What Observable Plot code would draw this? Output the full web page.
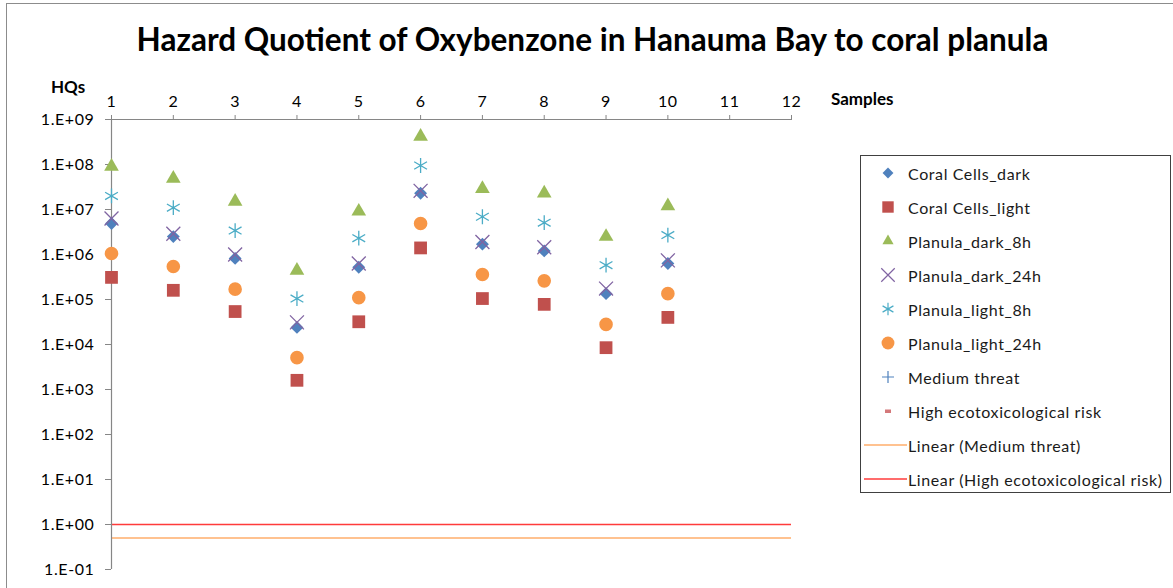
<!DOCTYPE html>
<html>
<head>
<meta charset="utf-8">
<script src="https://cdn.jsdelivr.net/npm/d3@7"></script>
<script src="https://cdn.jsdelivr.net/npm/@observablehq/plot@0.6"></script>
<style>
  html, body { margin: 0; padding: 0; background: #fff; }
  #wrap { position: relative; width: 1173px; height: 588px; overflow: hidden; font-family: Lato, "Open Sans", sans-serif; }
  #chart { position: absolute; left: 0; top: 0; }
  .frame-top { position: absolute; left: 6px; top: 3px; width: 1167px; height: 0; border-top: 1px solid #8c8c8c; }
  .frame-left { position: absolute; left: 6px; top: 3px; width: 0; height: 585px; border-left: 1px solid #8c8c8c; }
  #title { position: absolute; left: 0; width: 1185px; top: 20px; text-align: center; font-weight: bold; font-size: 31.5px; color: #000; white-space: nowrap; }
  .axlab { position: absolute; font-weight: bold; font-size: 17px; color: #000; }
  #legend { position: absolute; left: 860px; top: 155px; width: 311px; height: 338px; border: 1.5px solid #404040; box-sizing: border-box; }
  .row { position: absolute; left: 0; height: 20px; display: flex; align-items: center; font-size: 16px; letter-spacing: 0.6px; color: #1a1a1a; white-space: nowrap; }
  .row svg { display: block; }
</style>
</head>
<body>
<div id="wrap">
  <div id="chart"></div>
  <div class="frame-top"></div>
  <div class="frame-left"></div>
  <div id="title">Hazard Quotient of Oxybenzone in Hanauma Bay to coral planula</div>
  <div class="axlab" style="left:51px; top:76px;">HQs</div>
  <div class="axlab" style="left:831px; top:88px;">Samples</div>
  <div id="legend"></div>
</div>
<script>
// ---- data ----
const samples = [1, 2, 3, 4, 5, 6, 7, 8, 9, 10];
const coralCellsDark   = [4.9e6, 2.5e6, 8.2e5, 2.4e4, 5.2e5, 2.3e7, 1.7e6, 1.2e6, 1.35e5, 6.3e5];
const coralCellsLight  = [3.1e5, 1.6e5, 5.4e4, 1.6e3, 3.2e4, 1.4e6, 1.05e5, 7.8e4, 8.5e3, 4.0e4];
const planulaDark8h    = [9.0e7, 4.9e7, 1.5e7, 4.4e5, 9.1e6, 4.2e8, 2.9e7, 2.3e7, 2.5e6, 1.2e7];
const planulaDark24h   = [6.3e6, 2.9e6, 1.0e6, 3.1e4, 6.3e5, 2.6e7, 1.9e6, 1.45e6, 1.75e5, 7.4e5];
const planulaLight8h   = [2.0e7, 1.1e7, 3.4e6, 1.05e5, 2.3e6, 9.5e7, 6.9e6, 5.1e6, 5.8e5, 2.7e6];
const planulaLight24h  = [1.05e6, 5.4e5, 1.7e5, 5.1e3, 1.1e5, 4.9e6, 3.6e5, 2.6e5, 2.8e4, 1.35e5];
const mediumThreat = 0.5;
const highRisk = 1;
const xTicks = [1, 2, 3, 4, 5, 6, 7, 8, 9, 10, 11, 12];
const yTicks = [1e-1, 1e0, 1e1, 1e2, 1e3, 1e4, 1e5, 1e6, 1e7, 1e8, 1e9];
const yTickLabels = ["1.E-01", "1.E+00", "1.E+01", "1.E+02", "1.E+03", "1.E+04", "1.E+05", "1.E+06", "1.E+07", "1.E+08", "1.E+09"];
const seriesNames = ["Coral Cells_dark", "Coral Cells_light", "Planula_dark_8h", "Planula_dark_24h", "Planula_light_8h", "Planula_light_24h"];

// ---- styles ----
const styles = [
  {values: coralCellsDark,  symbol: "diamond2", r: 5.8, fill: "#4F81BD", stroke: "none"},
  {values: coralCellsLight, symbol: "square",   r: 7.2, fill: "#C0504D", stroke: "none"},
  {values: planulaDark8h,   symbol: "triangle2",r: 7.0, fill: "#9BBB59", stroke: "none"},
  {values: planulaDark24h,  symbol: "times",    r: 6.4, fill: "none", stroke: "#8064A2"},
  {values: planulaLight8h,  symbol: "asterisk", r: 7.0, fill: "none", stroke: "#4BACC6"},
  {values: planulaLight24h, symbol: "circle",   r: 6.8, fill: "#F79646", stroke: "none"}
];
const medColor = "#FFAE6B";
const highColor = "#FF3B3B";
const axisColor = "#868686";

const marks = [];
// trend lines
marks.push(Plot.ruleY([mediumThreat], {x1: xTicks[0], x2: xTicks[xTicks.length - 1], stroke: medColor, strokeWidth: 1.6}));
marks.push(Plot.ruleY([highRisk], {x1: xTicks[0], x2: xTicks[xTicks.length - 1], stroke: highColor, strokeWidth: 1.6}));
// axis lines
marks.push(Plot.ruleX([xTicks[0]], {stroke: axisColor, strokeWidth: 1.2}));
marks.push(Plot.ruleY([yTicks[yTicks.length - 1]], {stroke: axisColor, strokeWidth: 1.2}));
// axes
marks.push(Plot.axisX({anchor: "top", ticks: xTicks, tickFormat: d => String(d), tickSize: 5, tickPadding: 8, stroke: axisColor, fontSize: 16, fill: "#000", label: null}));
marks.push(Plot.axisY({ticks: yTicks, tickFormat: d => yTickLabels[yTicks.indexOf(d)], tickSize: 6, tickPadding: 11, stroke: axisColor, fontSize: 16, fill: "#000", label: null}));
// series
styles.forEach((s, i) => {
  const data = samples.map((x, j) => ({x, y: s.values[j], series: seriesNames[i]}));
  marks.push(Plot.dot(data, {x: "x", y: "y", symbol: () => s.symbol, r: s.r, fill: s.fill, stroke: s.stroke, strokeWidth: 1.3}));
});

const chart = Plot.plot({
  width: 1173,
  height: 588,
  marginTop: 119,
  marginLeft: 111,
  marginRight: 382,
  marginBottom: 19,
  style: {fontFamily: "Lato, 'Open Sans', sans-serif", background: "transparent", overflow: "visible", letterSpacing: "0.6px"},
  x: {domain: [xTicks[0], xTicks[xTicks.length - 1]], type: "linear"},
  y: {type: "log", domain: [yTicks[0], yTicks[yTicks.length - 1]]},
  symbol: {type: "identity"},
  marks
});
document.getElementById("chart").appendChild(chart);

// ---- legend ----
const legendItems = [
  {label: "Coral Cells_dark", kind: "sym", symbol: d3.symbolDiamond2, size: 75, fill: "#4F81BD", stroke: "none"},
  {label: "Coral Cells_light", kind: "sym", symbol: d3.symbolSquare, size: 130, fill: "#C0504D", stroke: "none"},
  {label: "Planula_dark_8h", kind: "sym", symbol: d3.symbolTriangle2, size: 90, fill: "#9BBB59", stroke: "none"},
  {label: "Planula_dark_24h", kind: "sym", symbol: d3.symbolTimes, size: 120, fill: "none", stroke: "#8064A2"},
  {label: "Planula_light_8h", kind: "sym", symbol: d3.symbolAsterisk, size: 110, fill: "none", stroke: "#4BACC6"},
  {label: "Planula_light_24h", kind: "sym", symbol: d3.symbolCircle, size: 130, fill: "#F79646", stroke: "none"},
  {label: "Medium threat", kind: "sym", symbol: d3.symbolPlus, size: 0, fill: "none", stroke: "#4F81BD", plus: true},
  {label: "High ecotoxicological risk", kind: "dash", color: "#D4787A"},
  {label: "Linear (Medium threat)", kind: "line", color: medColor},
  {label: "Linear (High ecotoxicological risk)", kind: "line", color: highColor}
];
const legend = document.getElementById("legend");
legendItems.forEach((it, i) => {
  const row = document.createElement("div");
  row.className = "row";
  row.style.top = (7 + i * 34) + "px";
  const ns = "http://www.w3.org/2000/svg";
  const svg = document.createElementNS(ns, "svg");
  svg.setAttribute("width", "47");
  svg.setAttribute("height", "20");
  if (it.kind === "sym") {
    const p = document.createElementNS(ns, "path");
    if (it.plus) {
      p.setAttribute("d", "M-6,0H6M0,-6V6");
    } else {
      p.setAttribute("d", d3.symbol(it.symbol, it.size)());
    }
    p.setAttribute("transform", "translate(27,10)");
    p.setAttribute("fill", it.fill);
    p.setAttribute("stroke", it.stroke);
    p.setAttribute("stroke-width", "1.2");
    svg.appendChild(p);
  } else if (it.kind === "dash") {
    const r = document.createElementNS(ns, "rect");
    r.setAttribute("x", 24); r.setAttribute("y", 8.5); r.setAttribute("width", 6); r.setAttribute("height", 3.5);
    r.setAttribute("fill", it.color);
    svg.appendChild(r);
  } else {
    const l = document.createElementNS(ns, "line");
    l.setAttribute("x1", 3); l.setAttribute("x2", 46); l.setAttribute("y1", 10); l.setAttribute("y2", 10);
    l.setAttribute("stroke", it.color); l.setAttribute("stroke-width", 1.5);
    svg.appendChild(l);
  }
  row.appendChild(svg);
  const t = document.createElement("span");
  t.textContent = it.label;
  row.appendChild(t);
  legend.appendChild(row);
});
</script>
</body>
</html>
